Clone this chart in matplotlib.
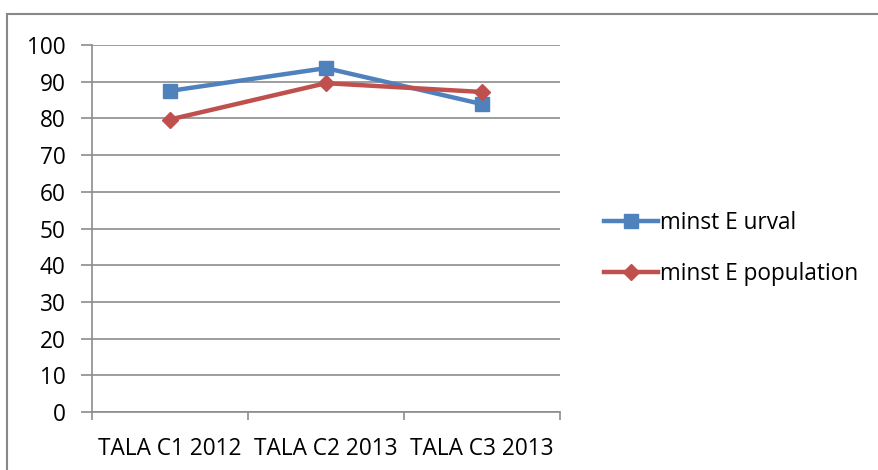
import matplotlib.pyplot as plt
from matplotlib.patches import Rectangle

categories = ['TALA C1 2012', 'TALA C2 2013', 'TALA C3 2013']
urval = [87.5, 93.7, 83.9]
population = [79.7, 89.6, 87.2]

BLUE = '#4F81BD'
RED = '#C0504D'
GRID = '#8C8C8C'
FS = 16.3

plt.rcParams['font.family'] = ['Open Sans', 'DejaVu Sans']

fig = plt.figure(figsize=(8.79, 4.70), dpi=100)
fig.patches.append(Rectangle((7 / 879, -0.1), 1.2, 1.1 - 14 / 470,
                             transform=fig.transFigure, fill=False,
                             edgecolor='#888888', linewidth=1.5))
ax = fig.add_axes([92 / 879, 1 - 412 / 470, (560 - 92) / 879, (412 - 45) / 470])

x = range(len(categories))
ax.plot(x, urval, color=BLUE, lw=3.2, marker='s', ms=10, label='minst E urval')
ax.plot(x, population, color=RED, lw=3.2, marker='D', ms=8.5, label='minst E population')

ax.set_xlim(-0.5, 2.5)
ax.set_ylim(0, 100)
ax.set_yticks(range(0, 101, 10))
ax.yaxis.grid(True, color=GRID, lw=1.2)
ax.set_axisbelow(True)
ax.set_xticks([-0.5, 0.5, 1.5, 2.5])
ax.set_xticklabels([])
ax.set_xticks(list(x), minor=True)
ax.set_xticklabels(categories, minor=True)
ax.tick_params(axis='x', which='major', length=6, color=GRID, width=1.2, direction='out')
ax.tick_params(axis='x', which='minor', length=0, pad=18, labelsize=FS)
ax.tick_params(axis='y', length=8, color=GRID, width=1.2, labelsize=FS, pad=11)
for s in ['top', 'right']:
    ax.spines[s].set_visible(False)
for s in ['left', 'bottom']:
    ax.spines[s].set_color(GRID)
    ax.spines[s].set_linewidth(1.2)

ax.legend(loc='center left', bbox_to_anchor=(1.07, 0.445), frameon=False, fontsize=FS,
          handlelength=2.4, handletextpad=0.05, labelspacing=1.2, borderpad=0)

fig.savefig('out.png', dpi=100)
